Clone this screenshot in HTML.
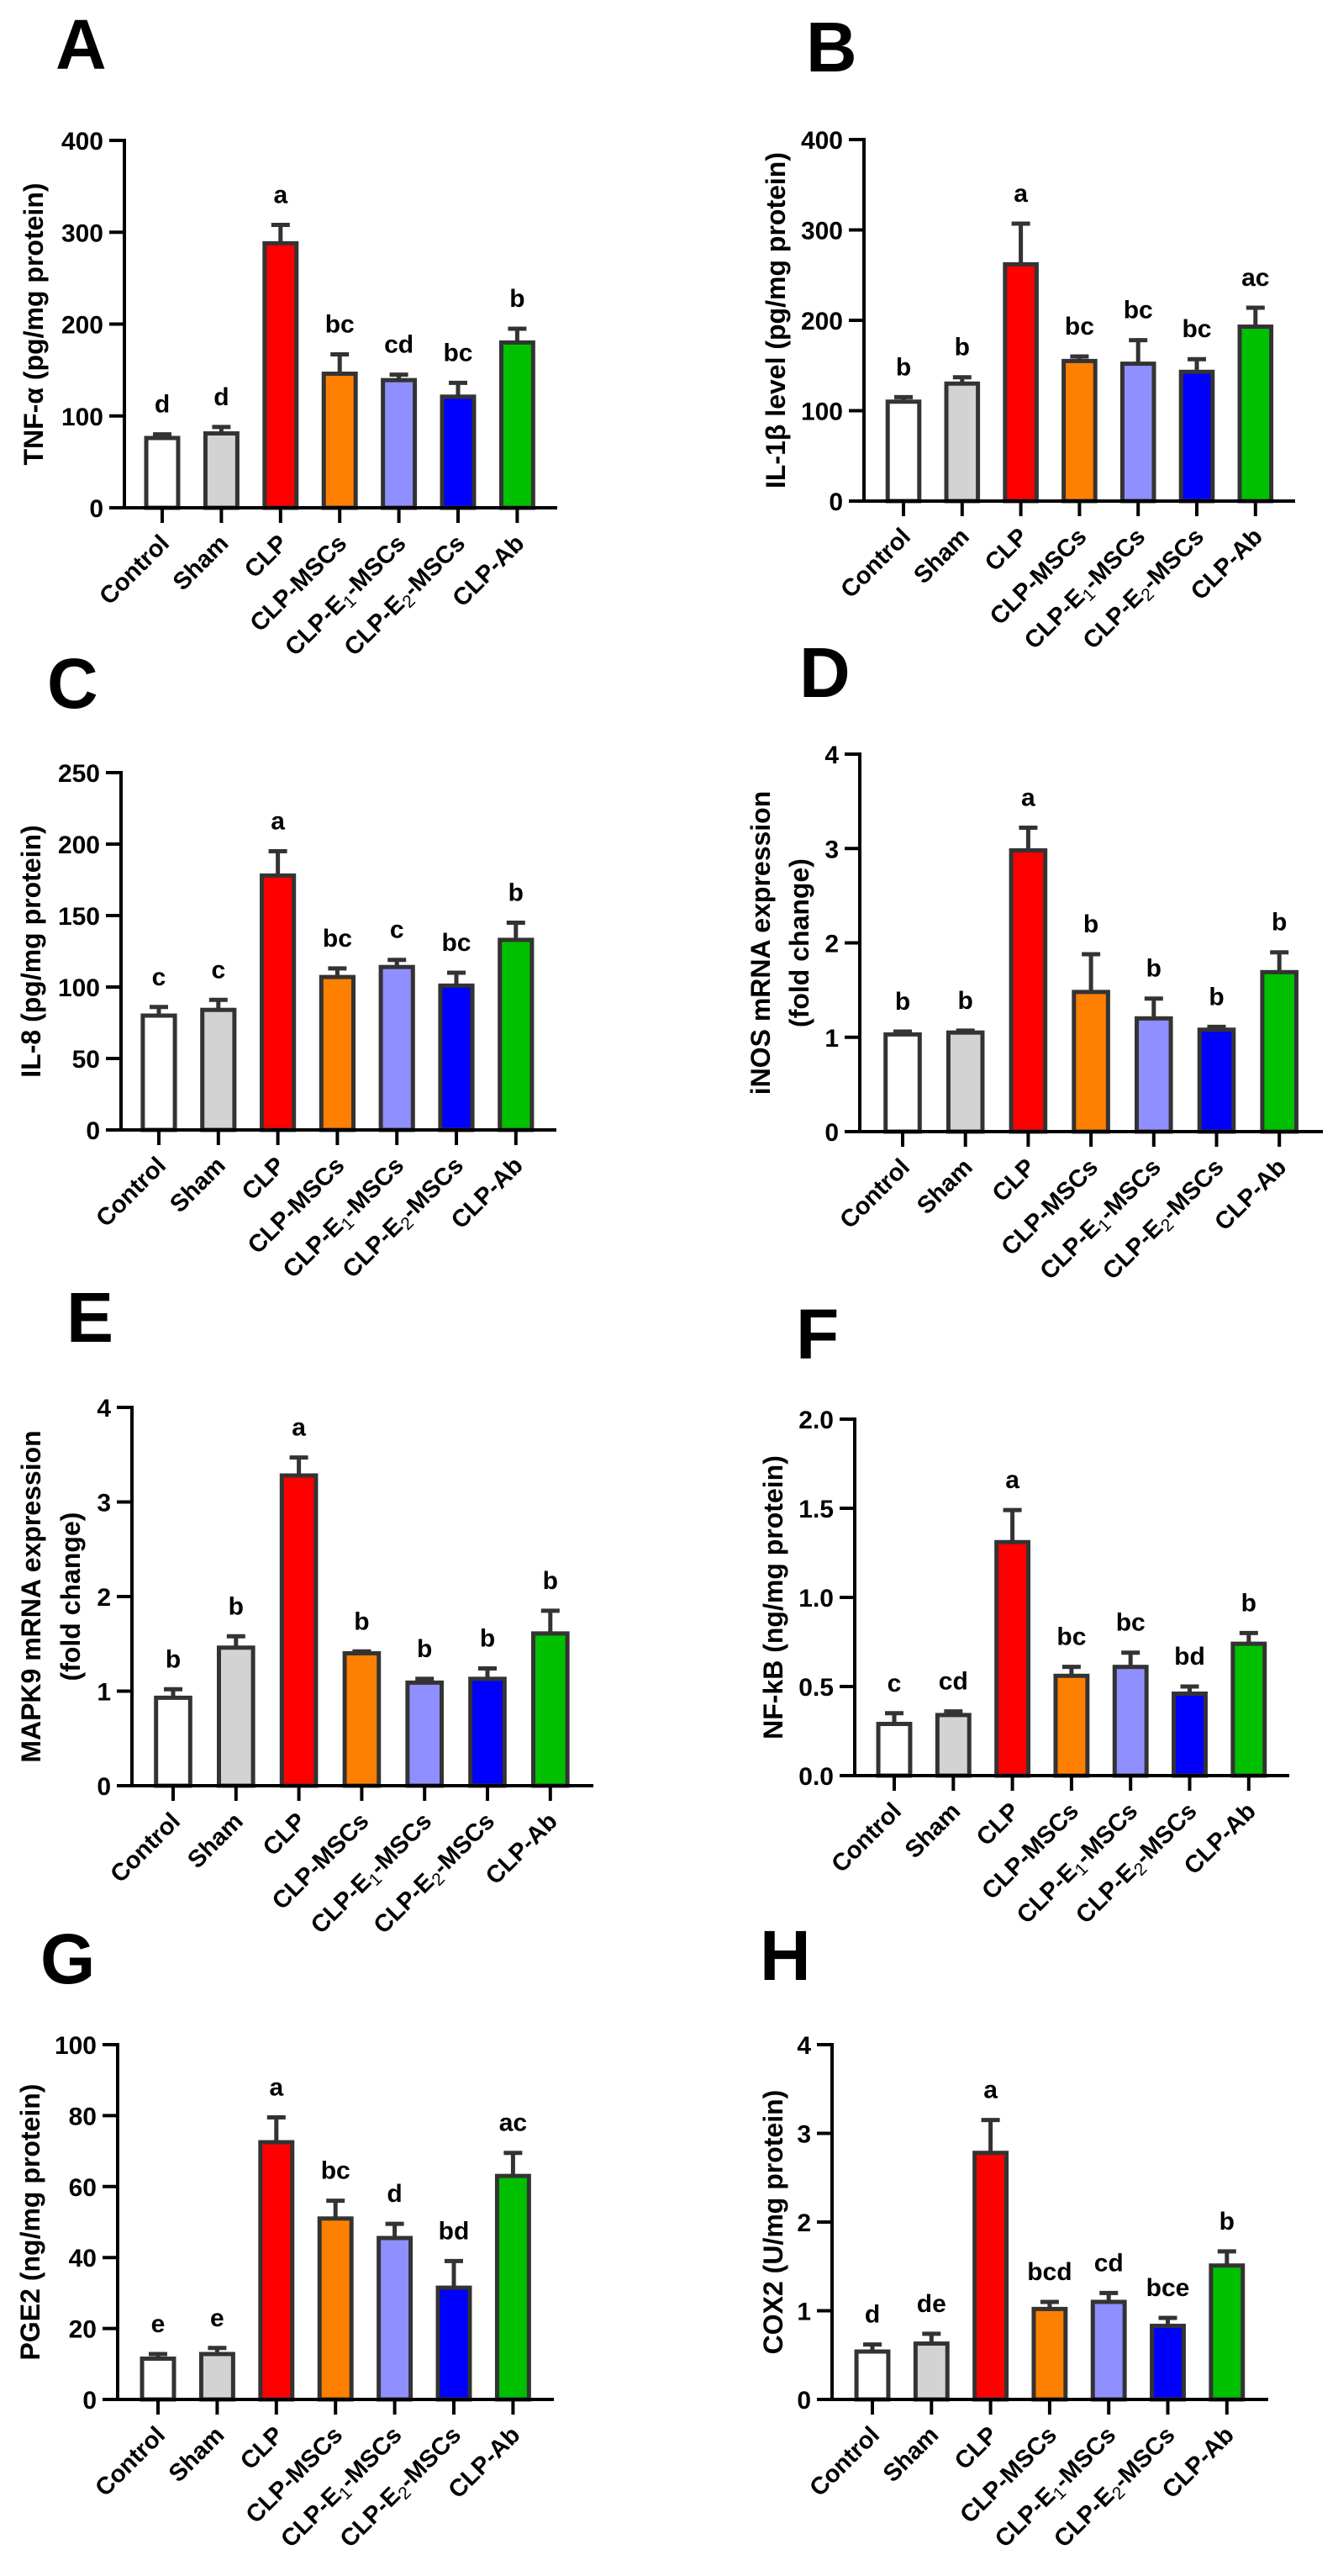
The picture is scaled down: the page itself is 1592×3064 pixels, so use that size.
<!DOCTYPE html>
<html><head><meta charset="utf-8"><title>Cytokine panels</title>
<style>
html,body{margin:0;padding:0;background:#fff;}
svg{display:block;font-family:"Liberation Sans",Arial,sans-serif;font-weight:bold;}
</style></head>
<body>
<svg id="fig" width="1592" height="3064" viewBox="0 0 1592 3064" xmlns="http://www.w3.org/2000/svg"></svg>
<script>
const categories = ["Control","Sham","CLP","CLP-MSCs","CLP-E1-MSCs","CLP-E2-MSCs","CLP-Ab"];
const colors = ["#ffffff","#d3d3d3","#ff0000","#ff8000","#8f8fff","#0000ff","#00c000"];

const tnfMeans = [76,81,288,146,139,121,180];
const tnfErrTop = [80,88,308,167,145,136,195];
const tnfLetters = ["d","d","a","bc","cd","bc","b"];
const tnfTicks = [0,100,200,300,400];

const il1Means = [110,130,262,155,152,143,193];
const il1ErrTop = [115,137,307,160,178,157,214];
const il1Letters = ["b","b","a","bc","bc","bc","ac"];
const il1Ticks = [0,100,200,300,400];

const il8Means = [80,84,178,107,114,101,133];
const il8ErrTop = [86,91,195,113,119,110,145];
const il8Letters = ["c","c","a","bc","c","bc","b"];
const il8Ticks = [0,50,100,150,200,250];

const inosMeans = [1.03,1.05,2.98,1.48,1.20,1.08,1.69];
const inosErrTop = [1.06,1.07,3.22,1.88,1.41,1.11,1.90];
const inosLetters = ["b","b","a","b","b","b","b"];
const inosTicks = [0,1,2,3,4];

const mapkMeans = [0.93,1.46,3.28,1.40,1.09,1.13,1.61];
const mapkErrTop = [1.02,1.58,3.47,1.42,1.13,1.24,1.85];
const mapkLetters = ["b","b","a","b","b","b","b"];
const mapkTicks = [0,1,2,3,4];

const nfkbMeans = [0.29,0.34,1.31,0.56,0.61,0.46,0.74];
const nfkbErrTop = [0.35,0.36,1.49,0.61,0.69,0.50,0.80];
const nfkbLetters = ["c","cd","a","bc","bc","bd","b"];
const nfkbTicks = [0,0.5,1.0,1.5,2.0];
const nfkbTickLabels = ["0.0","0.5","1.0","1.5","2.0"];

const pgeMeans = [11.5,12.8,72.5,51,45.5,31.5,63];
const pgeErrTop = [12.8,14.5,79.5,56,49.5,39,69.5];
const pgeLetters = ["e","e","a","bc","d","bd","ac"];
const pgeTicks = [0,20,40,60,80,100];

const coxMeans = [0.54,0.63,2.78,1.02,1.10,0.83,1.51];
const coxErrTop = [0.62,0.74,3.15,1.10,1.20,0.92,1.67];
const coxLetters = ["d","de","a","bcd","cd","bce","b"];
const coxTicks = [0,1,2,3,4];

const NS = "http://www.w3.org/2000/svg";
const svg = document.getElementById("fig");
function mk(tag, attrs, parent){
  const e = document.createElementNS(NS, tag);
  for (const k in attrs) e.setAttribute(k, attrs[k]);
  (parent||svg).appendChild(e);
  return e;
}

const panels = [
 {id:"A", lx:66, ly:82, ax:148, y0:604, yTop:167, xEnd:663, c0:193, step:70.4, means:tnfMeans, err:tnfErrTop, letters:tnfLetters, ticks:tnfTicks, tl:null, title:["TNF-α (pg/mg protein)"], tx:[40]},
 {id:"B", lx:959, ly:85, ax:1028, y0:596, yTop:166, xEnd:1541, c0:1075, step:69.8, means:il1Means, err:il1ErrTop, letters:il1Letters, ticks:il1Ticks, tl:null, title:["IL-1β level (pg/mg protein)"], tx:[923]},
 {id:"C", lx:56, ly:842, ax:144, y0:1344, yTop:919, xEnd:662, c0:189, step:70.8, means:il8Means, err:il8ErrTop, letters:il8Letters, ticks:il8Ticks, tl:null, title:["IL-8 (pg/mg protein)"], tx:[37]},
 {id:"D", lx:951, ly:829, ax:1023, y0:1346, yTop:897, xEnd:1574, c0:1074, step:74.7, means:inosMeans, err:inosErrTop, letters:inosLetters, ticks:inosTicks, tl:null, title:["iNOS mRNA expression","(fold change)"], tx:[905,951]},
 {id:"E", lx:79, ly:1596, ax:157, y0:2124, yTop:1674, xEnd:706, c0:206, step:74.8, means:mapkMeans, err:mapkErrTop, letters:mapkLetters, ticks:mapkTicks, tl:null, title:["MAPK9 mRNA expression","(fold change)"], tx:[37,84]},
 {id:"F", lx:947, ly:1616, ax:1017, y0:2112, yTop:1688, xEnd:1534, c0:1064, step:70.3, means:nfkbMeans, err:nfkbErrTop, letters:nfkbLetters, ticks:nfkbTicks, tl:nfkbTickLabels, title:["NF-kB (ng/mg protein)"], tx:[920]},
 {id:"G", lx:48, ly:2359, ax:140, y0:2854, yTop:2432, xEnd:659, c0:188, step:70.4, means:pgeMeans, err:pgeErrTop, letters:pgeLetters, ticks:pgeTicks, tl:null, title:["PGE2 (ng/mg protein)"], tx:[36]},
 {id:"H", lx:904, ly:2355, ax:990, y0:2854, yTop:2432, xEnd:1509, c0:1038, step:70.3, means:coxMeans, err:coxErrTop, letters:coxLetters, ticks:coxTicks, tl:null, title:["COX2 (U/mg protein)"], tx:[920]}
];

panels.forEach(p => {
  const g = mk("g", {});
  
  
  const yMax = p.ticks[p.ticks.length-1];
  const yScale = v => p.y0 - (v / yMax) * (p.y0 - p.yTop);
  const xScale = i => p.c0 + i * p.step;
  const bw = p.step * 0.61;

  const letter = mk("text", {x:p.lx, y:p.ly, "font-size":84, fill:"#000"}, g);
  letter.textContent = p.id;
  
  

  p.means.forEach((v, i) => {
    const cx = xScale(i);
    const ey = yScale(p.err[i]);
    const eb = mk("line", {x1:cx, x2:cx, y1:yScale(v), y2:ey, stroke:"#333", "stroke-width":5}, g);
    
    
    const cap = mk("line", {x1:cx-11, x2:cx+11, y1:ey, y2:ey, stroke:"#333", "stroke-width":5}, g);
    
    
    const r = mk("rect", {x:cx-bw/2+2.5, y:yScale(v), width:bw-5, height:p.y0-yScale(v), fill:colors[i], stroke:"#333", "stroke-width":5}, g);
    
    
    const sl = mk("text", {x:cx, y:ey-26, "font-size":30, "text-anchor":"middle", fill:"#000"}, g);
    sl.textContent = p.letters[i];
    
    
    const xt = mk("line", {x1:cx, x2:cx, y1:p.y0, y2:p.y0+18, stroke:"#000", "stroke-width":4}, g);
    
    
    const ax = cx + 10, ay = p.y0 + 44;
    const lab = mk("text", {x:ax, y:ay, "font-size":29, "text-anchor":"end", transform:"rotate(-45 "+ax+" "+ay+")", fill:"#000"}, g);
    
    
    const name = categories[i];
    const m = name.match(/^CLP-E(\d)-MSCs$/);
    if (m) {
      const t1 = mk("tspan", {}, lab); t1.textContent = "CLP-E";
      const t2 = mk("tspan", {"font-weight":"normal", "font-size":21, dy:6}, lab); t2.textContent = m[1];
      const t3 = mk("tspan", {dy:-6}, lab); t3.textContent = "-MSCs";
    } else {
      lab.textContent = name;
    }
  });

  const yAxis = mk("line", {x1:p.ax, x2:p.ax, y1:p.yTop-2, y2:p.y0+2, stroke:"#000", "stroke-width":4}, g);
  
  
  const xAxis = mk("line", {x1:p.ax-18, x2:p.xEnd, y1:p.y0, y2:p.y0, stroke:"#000", "stroke-width":4}, g);
  
  

  p.ticks.forEach((t, k) => {
    const y = yScale(t);
    const tk = mk("line", {x1:p.ax-18, x2:p.ax, y1:y, y2:y, stroke:"#000", "stroke-width":4}, g);
    
    
    const tl = mk("text", {x:p.ax-25, y:y+11, "font-size":30, "text-anchor":"end", fill:"#000"}, g);
    tl.textContent = p.tl ? p.tl[k] : String(t);
    
    
  });

  const cy = (p.y0 + p.yTop) / 2;
  p.title.forEach((line, k) => {
    const x = p.tx[k] + 11;
    const tt = mk("text", {x:x, y:cy, "font-size":32, "text-anchor":"middle", transform:"rotate(-90 "+x+" "+cy+")", fill:"#000"}, g);
    tt.textContent = line;
    
    
  });
});
</script>
</body></html>
